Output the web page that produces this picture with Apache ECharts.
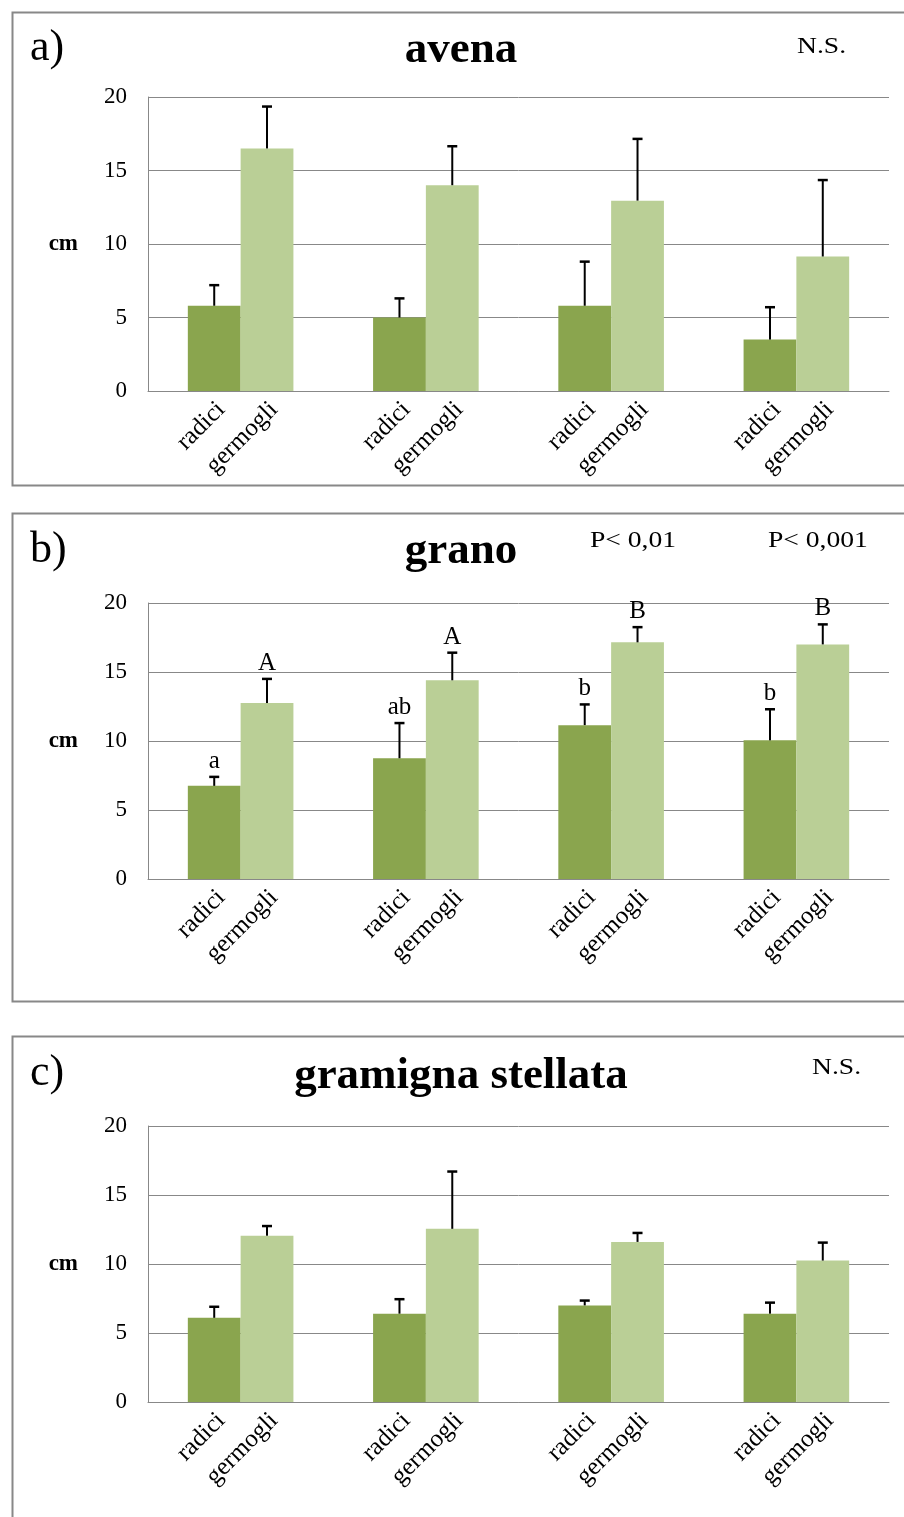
<!DOCTYPE html>
<html><head><meta charset="utf-8">
<script src="https://cdn.jsdelivr.net/npm/echarts@6/dist/echarts.min.js"></script>
<style>html,body{margin:0;padding:0;background:#fff}#c{width:904px;height:1517px}</style>
</head><body><div id="c"></div>
<script>
// ---------- data ----------
const categories = ['1', '2', '3', '4'];
const seriesNames = ['radici', 'germogli'];
const yTicks = [0, 5, 10, 15, 20];

const avenaRadici = [5.8, 5.0, 5.8, 3.5];
const avenaRadiciErr = [1.4, 1.3, 3.0, 2.2];
const avenaGermogli = [16.5, 14.0, 12.95, 9.15];
const avenaGermogliErr = [2.85, 2.65, 4.2, 5.2];

const granoRadici = [6.75, 8.75, 11.15, 10.05];
const granoRadiciErr = [0.65, 2.55, 1.5, 2.25];
const granoGermogli = [12.75, 14.4, 17.15, 17.0];
const granoGermogliErr = [1.75, 2.0, 1.1, 1.45];
const granoLettersRadici = ['a', 'ab', 'b', 'b'];
const granoLettersGermogli = ['A', 'A', 'B', 'B'];

const gramRadici = [6.1, 6.4, 7.0, 6.4];
const gramRadiciErr = [0.8, 1.05, 0.35, 0.8];
const gramGermogli = [12.05, 12.55, 11.6, 10.25];
const gramGermogliErr = [0.7, 4.15, 0.65, 1.3];

const panelLetters = ['a)', 'b)', 'c)'];
const panelTitles = ['avena', 'grano', 'gramigna stellata'];
const unitLabel = 'cm';

// ---------- chart ----------
const SERIF = '"Liberation Serif", "Times New Roman", serif';
const GAP = 0.43;
const C_DARK = '#8aa54e';
const C_LIGHT = '#bacf96';
const GRID_C = '#888888';

const panels = [
  {top: 97, height: 294, r: avenaRadici, re: avenaRadiciErr, g: avenaGermogli, ge: avenaGermogliErr},
  {top: 603, height: 276, r: granoRadici, re: granoRadiciErr, g: granoGermogli, ge: granoGermogliErr,
   lr: granoLettersRadici, lg: granoLettersGermogli},
  {top: 1126, height: 276, r: gramRadici, re: gramRadiciErr, g: gramGermogli, ge: gramGermogliErr}
];

function errRender(side, letters) {
  return function (params, api) {
    const i = api.value(0), v = api.value(1), e = api.value(2);
    const band = api.size([1, 0])[0];
    const bw = band * (1 - GAP) / 2;
    const base = api.coord([i, v]);
    const top = api.coord([i, v + e]);
    const cx = base[0] + side * bw / 2;
    const children = [
      {type: 'line', shape: {x1: cx, y1: base[1], x2: cx, y2: top[1]}, style: {stroke: '#000', lineWidth: 2}},
      {type: 'line', shape: {x1: cx - 5, y1: top[1], x2: cx + 5, y2: top[1]}, style: {stroke: '#000', lineWidth: 2.5}}
    ];
    if (letters) {
      children.push({type: 'text', x: cx, y: top[1] - 3,
        style: {text: letters[params.dataIndex], align: 'center', verticalAlign: 'bottom',
                font: '25px ' + SERIF, fill: '#000'}});
    }
    return {type: 'group', children: children};
  };
}

const grid = [], xAxis = [], yAxis = [], series = [];
panels.forEach((p, k) => {
  grid.push({left: 148, right: 15, top: p.top, height: p.height});
  xAxis.push({type: 'category', gridIndex: k, data: categories,
    axisLine: {lineStyle: {color: GRID_C, width: 1}}, axisTick: {show: false}, axisLabel: {show: false}});
  yAxis.push({type: 'value', gridIndex: k, min: yTicks[0], max: yTicks[yTicks.length - 1], interval: 5,
    axisLine: {show: true, lineStyle: {color: GRID_C, width: 1}}, axisTick: {show: false},
    splitLine: {lineStyle: {color: GRID_C, width: 1}},
    axisLabel: {margin: 21, fontFamily: SERIF, fontSize: 23, color: '#000'}});
  const lbl = {show: true, position: 'bottom', formatter: '{a}', rotate: 45, align: 'right',
    verticalAlign: 'middle', distance: 22, offset: [10, 0], fontFamily: SERIF, fontSize: 25, color: '#000'};
  series.push({type: 'bar', name: seriesNames[0], xAxisIndex: k, yAxisIndex: k, data: p.r,
    barGap: '0%', barCategoryGap: (GAP * 100) + '%', itemStyle: {color: C_DARK}, label: lbl, silent: true});
  series.push({type: 'bar', name: seriesNames[1], xAxisIndex: k, yAxisIndex: k, data: p.g,
    barGap: '0%', barCategoryGap: (GAP * 100) + '%', itemStyle: {color: C_LIGHT}, label: lbl, silent: true});
  series.push({type: 'custom', xAxisIndex: k, yAxisIndex: k, z: 5, renderItem: errRender(-1, p.lr),
    data: categories.map((c, i) => [i, p.r[i], p.re[i]])});
  series.push({type: 'custom', xAxisIndex: k, yAxisIndex: k, z: 5, renderItem: errRender(1, p.lg),
    data: categories.map((c, i) => [i, p.g[i], p.ge[i]])});
});

const borders = [[10, 10, 473], [10, 511, 488], [10, 1034, 600]];
const graphic = [];
borders.forEach(b => graphic.push({type: 'rect', left: b[0], top: b[1],
  shape: {x: 0, y: 0, width: 920, height: b[2]}, style: {fill: 'none', stroke: GRID_C, lineWidth: 2}, z: -1}));

const headY = [48, 550, 1073];
const titleY = [50, 551, 1076];
headY.forEach((y, k) => {
  graphic.push({type: 'text', x: 30, y: y,
    style: {text: panelLetters[k], font: '44px ' + SERIF, fill: '#000', verticalAlign: 'middle', align: 'left'}});
  graphic.push({type: 'text', x: 461, y: titleY[k],
    style: {text: panelTitles[k], font: 'bold 45px ' + SERIF, fill: '#000', verticalAlign: 'middle', align: 'center'}});
  const midY = panels[k].top + panels[k].height / 2;
  graphic.push({type: 'text', x: 78, y: midY,
    style: {text: unitLabel, font: 'bold 23px ' + SERIF, fill: '#000', verticalAlign: 'middle', align: 'right'}});
});
const notes = [['N.S.', 797, 47], ['P< 0,01', 590, 541], ['P< 0,001', 768, 541], ['N.S.', 812, 1068]];
notes.forEach(n => graphic.push({type: 'text', x: n[1], y: n[2], scaleX: 1.15,
  style: {text: n[0], font: '24px ' + SERIF, fill: '#000', verticalAlign: 'middle', align: 'left'}}));

const chart = echarts.init(document.getElementById('c'), null, {renderer: 'canvas'});
chart.setOption({animation: false, backgroundColor: '#fff', grid, xAxis, yAxis, series, graphic});
</script></body></html>
